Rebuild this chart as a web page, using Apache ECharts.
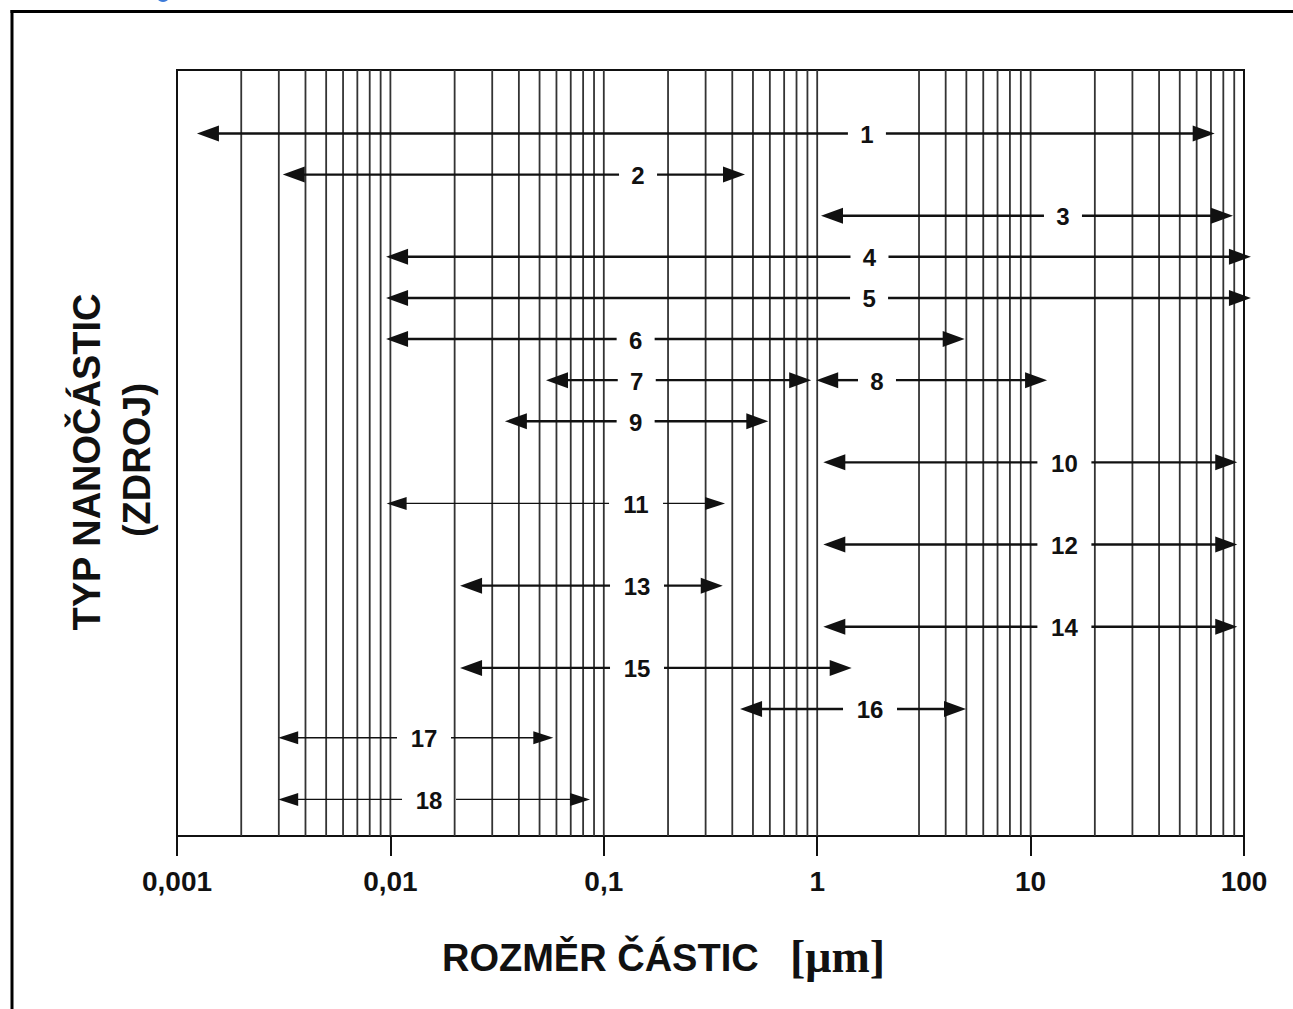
<!DOCTYPE html>
<html>
<head>
<meta charset="utf-8">
<script src="https://cdn.jsdelivr.net/npm/echarts/dist/echarts.min.js"></script>
<style>
html,body{margin:0;padding:0;background:#fff;}
#c{width:1293px;height:1009px;}
</style>
</head>
<body>
<div id="c"></div>
<script>
// ---- data ----
const tickValues = [0.001, 0.01, 0.1, 1, 10, 100];
const tickLabels = ['0,001', '0,01', '0,1', '1', '10', '100'];

// vertical grid lines (particle size, µm)
const gridValues = [
  0.002, 0.003, 0.004, 0.005, 0.006, 0.007, 0.008, 0.009, 0.01,
  0.02, 0.03, 0.04, 0.05, 0.06, 0.07, 0.08, 0.09, 0.1,
  0.2, 0.3, 0.4, 0.5, 0.6, 0.7, 0.8, 0.9, 1,
  3, 4, 5, 6, 7, 8, 9, 10,
  20, 30, 40, 50, 60, 70, 80, 90
];

// particle types (arrows)
const arrowLabels = ['1','2','3','4','5','6','7','8','9','10','11','12','13','14','15','16','17','18'];
const arrowRow    = [0, 1, 2, 3, 4, 5, 6, 6, 7, 8, 9, 10, 11, 12, 13, 14, 14.7, 16.2];
const arrowFrom   = [0.00124, 0.00313, 1.042, 0.00954, 0.00954, 0.00954, 0.0536, 0.989, 0.0344, 1.068, 0.0096, 1.068, 0.0212, 1.068, 0.0212, 0.435, 0.00298, 0.00298];
const arrowTo     = [72.9, 0.459, 88.8, 107.8, 107.8, 4.91, 0.937, 11.94, 0.590, 93.0, 0.370, 93.0, 0.361, 93.0, 1.451, 4.98, 0.058, 0.0862];
const arrowLabelX = [1.71, 0.1447, 14.18, 1.758, 1.75, 0.141, 0.1427, 1.906, 0.141, 14.4, 0.1416, 14.4, 0.1431, 14.4, 0.1431, 1.768, 0.01437, 0.01517];

const xTitle = 'ROZMĚR ČÁSTIC';
const xUnit = '[μm]';
const yTitle1 = 'TYP NANOČÁSTIC';
const yTitle2 = '(ZDROJ)';

// ---- styles ----
const thinArrows = ['11', '17', '18'];
const Y_MIN = -1.545, Y_MAX = 17.09;
const SANS = '"Liberation Sans", Arial, Helvetica, sans-serif';
const SERIF = '"Liberation Serif", "Times New Roman", serif';

const chart = echarts.init(document.getElementById('c'), null, { renderer: 'svg' });

const arrowData = arrowLabels.map((l, i) => [arrowLabelX[i], arrowRow[i], arrowFrom[i], arrowTo[i], i]);
const gridData = gridValues.map(v => [v, 0]);

chart.setOption({
  animation: false,
  backgroundColor: '#fff',
  grid: {
    left: 177, right: 49, top: 70, bottom: 173,
    show: true, borderColor: '#111', borderWidth: 2, backgroundColor: 'transparent'
  },
  xAxis: {
    type: 'log', logBase: 10, min: 0.001, max: 100, position: 'bottom',
    axisLine: { show: true, onZero: false, lineStyle: { color: '#111', width: 2 } },
    axisTick: { show: true, inside: false, length: 20, lineStyle: { color: '#111', width: 2 } },
    splitLine: { show: false },
    minorTick: { show: false },
    axisLabel: {
      show: true, margin: 31, showMinLabel: true, showMaxLabel: true,
      color: '#111', fontSize: 28, fontWeight: 'bold', fontFamily: SANS,
      formatter: function (v) {
        const k = Math.round(Math.log10(v)) + 3;
        return tickLabels[k] !== undefined ? tickLabels[k] : '';
      }
    }
  },
  yAxis: {
    type: 'value', min: Y_MIN, max: Y_MAX, inverse: true, show: false
  },
  series: [
    {
      type: 'custom', name: 'grid', z: 1, silent: true,
      encode: { x: 0, y: 1 },
      data: gridData,
      renderItem: function (params, api) {
        const v = api.value(0);
        const p1 = api.coord([v, Y_MIN]);
        const p2 = api.coord([v, Y_MAX]);
        return {
          type: 'line',
          shape: { x1: p1[0], y1: p1[1], x2: p2[0], y2: p2[1] },
          style: { stroke: '#333', lineWidth: 1.8 }
        };
      }
    },
    {
      type: 'custom', name: 'arrows', z: 5, silent: true,
      encode: { x: 0, y: 1 },
      data: arrowData,
      renderItem: function (params, api) {
        const i = api.value(4);
        const lab = arrowLabels[i];
        const row = api.value(1);
        const c = api.coord([api.value(0), row]);
        const a = api.coord([api.value(2), row]);
        const b = api.coord([api.value(3), row]);
        const thin = thinArrows.indexOf(lab) >= 0;
        const L = thin ? 20 : 22, H = thin ? 13 : 16, w = thin ? 1.3 : 2.4;
        const gap = lab.length > 1 ? 27 : 19;
        const y = c[1];
        const col = '#111';
        return {
          type: 'group',
          children: [
            { type: 'line', shape: { x1: a[0] + L - 1, y1: y, x2: c[0] - gap, y2: y }, style: { stroke: col, lineWidth: w } },
            { type: 'line', shape: { x1: c[0] + gap, y1: y, x2: b[0] - L + 1, y2: y }, style: { stroke: col, lineWidth: w } },
            { type: 'polygon', shape: { points: [[a[0], y], [a[0] + L, y - H / 2], [a[0] + L, y + H / 2]] }, style: { fill: col } },
            { type: 'polygon', shape: { points: [[b[0], y], [b[0] - L, y - H / 2], [b[0] - L, y + H / 2]] }, style: { fill: col } },
            { type: 'text', x: c[0], y: y + 1, style: { text: lab, align: 'center', verticalAlign: 'middle', font: 'bold 24px ' + SANS, fill: col } }
          ]
        };
      }
    }
  ],
  graphic: [
    { type: 'line', shape: { x1: 12, y1: 10, x2: 12, y2: 1012 }, style: { stroke: '#000', lineWidth: 3 } },
    { type: 'line', shape: { x1: 10.5, y1: 11.5, x2: 1300, y2: 11.5 }, style: { stroke: '#000', lineWidth: 3 } },
    { type: 'circle', shape: { cx: 163, cy: -5, r: 7 }, style: { fill: '#3d7bd9' } },
    { type: 'text', x: 442, y: 958, style: { text: xTitle, align: 'left', verticalAlign: 'middle', font: 'bold 38px ' + SANS, fill: '#111' } },
    { type: 'text', x: 790, y: 956, style: { text: xUnit, align: 'left', verticalAlign: 'middle', font: 'bold 46px ' + SERIF, fill: '#111' } },
    { type: 'text', x: 87, y: 462, rotation: Math.PI / 2, style: { text: yTitle1, align: 'center', verticalAlign: 'middle', font: 'bold 38px ' + SANS, fill: '#111' } },
    { type: 'text', x: 137, y: 460, rotation: Math.PI / 2, style: { text: yTitle2, align: 'center', verticalAlign: 'middle', font: 'bold 38px ' + SANS, fill: '#111' } }
  ]
});
</script>
</body>
</html>
